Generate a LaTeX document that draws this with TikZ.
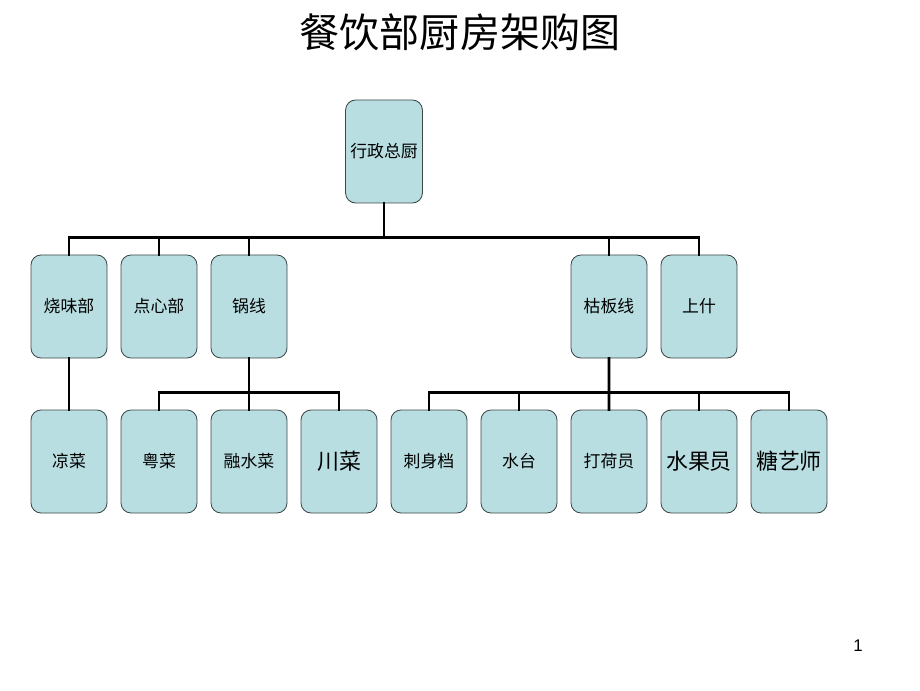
\documentclass[tikz,border=0pt]{standalone}
\usepackage{fontspec}
\setmainfont{Noto Sans CJK SC}
\newfontfamily\numfont{Liberation Sans}
\definecolor{boxfill}{RGB}{184,222,225}
\definecolor{boxline}{RGB}{60,70,70}

\tikzstyle{post} = [rectangle, rounded corners=0.25cm, minimum width=1.9cm, minimum height=2.575cm, text centered, draw=boxline, line width=0.6pt, fill=boxfill, font=\fontsize{12}{14}\selectfont]
\tikzstyle{bigpost} = [post, font=\fontsize{15.6}{18}\selectfont]
\tikzstyle{link} = [line width=2pt, line cap=rect]

\begin{document}
\begin{tikzpicture}[node distance=2.25cm]
      \useasboundingbox (0,0) rectangle (23,17.25);
      \node (title) at (11.5,16.45) {\fontsize{28.5}{32}\selectfont 餐饮部厨房架购图};
      \node (page) at (21.45,1.1) {\numfont\fontsize{12}{14}\selectfont 1};

      \node (zc) [post] at (9.6,13.4625) {行政总厨};
      \node (swb) [post] at (1.725,9.5875) {烧味部};
      \node (dxb) [post, right of=swb] {点心部};
      \node (gx) [post, right of=dxb] {锅线};
      \node (zbx) [post, right of=gx, xshift=6.75cm] {枯板线};
      \node (ss) [post, right of=zbx] {上什};

      \node (lc) [post, below of=swb, yshift=-1.625cm] {凉菜};
      \node (yc) [post, right of=lc] {粤菜};
      \node (rsc) [post, right of=yc] {融水菜};
      \node (cc) [bigpost, right of=rsc] {川菜};
      \node (csd) [post, right of=cc] {刺身档};
      \node (st) [post, right of=csd] {水台};
      \node (dhy) [post, right of=st] {打荷员};
      \node (sgy) [bigpost, right of=dhy] {水果员};
      \node (tys) [bigpost, right of=sgy] {糖艺师};

      \draw [link] (zc.south) -- ++(0,-0.85) coordinate (bus1);
      \draw [link] (swb.north) |- (bus1);
      \draw [link] (dxb.north) -- (dxb.north |- bus1);
      \draw [link] (gx.north) -- (gx.north |- bus1);
      \draw [link] (zbx.north) -- (zbx.north |- bus1);
      \draw [link] (ss.north) |- (bus1);

      \draw [link] (swb) -- (lc);

      \draw [link] (gx.south) -- ++(0,-0.85) coordinate (bus2);
      \draw [link] (yc.north) |- (bus2);
      \draw [link] (rsc.north) -- (gx.south);
      \draw [link] (cc.north) |- (bus2);

      \draw [link] (zbx.south) -- ++(0,-0.85) coordinate (bus3);
      \draw [link] (csd.north) |- (bus3);
      \draw [link] (st.north) -- (st.north |- bus3);
      \draw [link] (dhy.north) -- (zbx.south);
      \draw [link] (sgy.north) -- (sgy.north |- bus3);
      \draw [link] (tys.north) |- (bus3);
\end{tikzpicture}
\end{document}
